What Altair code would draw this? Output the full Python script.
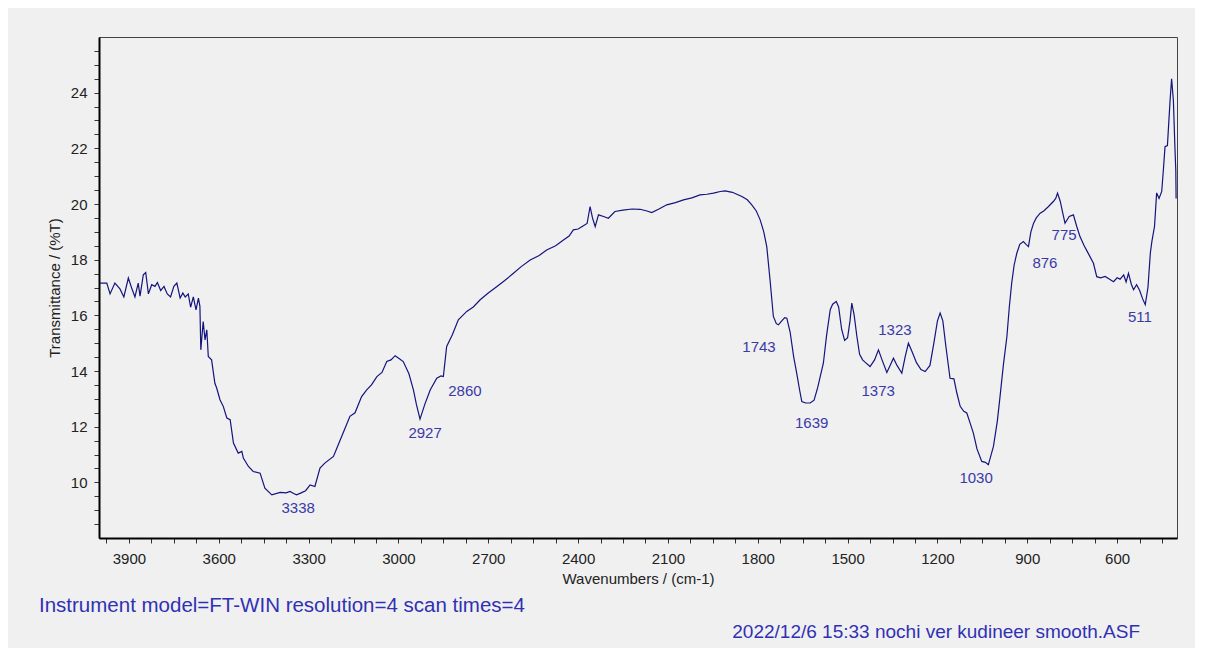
import altair as alt
import pandas as pd

# ---- spectrum ----
wavenumber = [
    3997, 3974, 3963, 3947, 3930, 3917, 3902, 3891, 3880, 3869, 3863, 3852, 3844, 3835,
    3824, 3813, 3805, 3794, 3783, 3772, 3761, 3750, 3740, 3729, 3720, 3712, 3702, 3694,
    3685, 3676, 3668, 3663, 3660, 3652, 3646, 3640, 3635, 3624, 3613, 3607, 3596, 3585,
    3573, 3562, 3551, 3535, 3523, 3518, 3501, 3485, 3462, 3446, 3423, 3395, 3375, 3362,
    3350, 3340, 3325, 3310, 3295, 3279, 3262, 3245, 3217, 3201, 3180, 3162, 3145, 3123,
    3106, 3090, 3072, 3055, 3039, 3025, 3011, 2998, 2984, 2965, 2950, 2940, 2928, 2912,
    2894, 2872, 2858, 2850, 2839, 2820, 2800, 2772, 2750, 2727, 2700, 2672, 2645, 2616,
    2590, 2560, 2530, 2505, 2475, 2449, 2430, 2416, 2400, 2385, 2370, 2360, 2352, 2343,
    2332, 2315, 2299, 2277, 2250, 2220, 2193, 2170, 2154, 2130, 2104, 2075, 2048, 2020,
    1993, 1970, 1948, 1925, 1909, 1885, 1870, 1853, 1835, 1820, 1805, 1792, 1780, 1770,
    1759, 1748, 1738, 1731, 1720, 1710, 1703, 1692, 1680, 1670, 1660, 1653, 1640, 1625,
    1612, 1600, 1581, 1570, 1558, 1550, 1538, 1530, 1520, 1510, 1500, 1492, 1486, 1478,
    1469, 1460, 1450, 1440, 1425, 1410, 1397, 1385, 1369, 1358, 1347, 1335, 1319, 1308,
    1297, 1285, 1270, 1255, 1241, 1225, 1212, 1200, 1191, 1182, 1172, 1158, 1145, 1135,
    1124, 1112, 1102, 1090, 1080, 1068, 1052, 1040, 1030, 1013, 1000, 991, 980, 968,
    960, 952, 944, 935, 925, 913, 904, 896, 888, 879, 870, 857, 845, 830, 813, 805, 799,
    790, 780, 774, 760, 746, 735, 724, 710, 695, 679, 668, 655, 640, 625, 612, 600, 590,
    578, 570, 562, 552, 545, 535, 525, 515, 506, 497, 489, 484, 475, 468, 460, 451, 445,
    440, 432, 423, 418, 412, 407, 404, 403,
]
transmittance = [
    17.16, 17.16, 16.77, 17.16, 16.95, 16.66, 17.34, 16.98, 16.66, 17.16, 16.69, 17.46, 17.54, 16.77,
    17.10, 17.04, 17.18, 16.89, 17.04, 16.77, 16.66, 17.04, 17.16, 16.62, 16.80, 16.66, 16.77, 16.29,
    16.66, 16.20, 16.62, 16.32, 14.76, 15.78, 15.12, 15.48, 14.52, 14.40, 13.56, 13.39, 12.97, 12.73,
    12.31, 12.25, 11.41, 11.05, 11.11, 10.87, 10.57, 10.39, 10.33, 9.79, 9.55, 9.64, 9.62, 9.67,
    9.60, 9.55, 9.62, 9.70, 9.91, 9.85, 10.51, 10.70, 10.93, 11.35, 11.90, 12.37, 12.50, 13.08,
    13.32, 13.50, 13.80, 13.95, 14.34, 14.40, 14.55, 14.45, 14.34, 13.90, 13.32, 12.80, 12.27, 12.80,
    13.32, 13.74, 13.82, 13.80, 14.88, 15.30, 15.84, 16.14, 16.30, 16.56, 16.80, 17.03, 17.25, 17.51,
    17.75, 17.99, 18.15, 18.35, 18.50, 18.71, 18.85, 19.07, 19.10, 19.20, 19.30, 19.91, 19.50, 19.19,
    19.61, 19.55, 19.49, 19.73, 19.78, 19.82, 19.81, 19.75, 19.69, 19.82, 19.97, 20.05, 20.15, 20.22,
    20.33, 20.35, 20.39, 20.45, 20.47, 20.42, 20.35, 20.27, 20.15, 19.97, 19.75, 19.43, 19.00, 18.47,
    17.27, 15.96, 15.70, 15.66, 15.80, 15.92, 15.90, 15.40, 14.50, 13.92, 13.30, 12.90, 12.85, 12.85,
    12.95, 13.40, 14.28, 15.30, 16.20, 16.40, 16.50, 16.30, 15.50, 15.10, 15.20, 15.80, 16.44, 16.00,
    15.24, 14.60, 14.40, 14.30, 14.16, 14.40, 14.76, 14.40, 13.95, 14.20, 14.46, 14.20, 13.92, 14.50,
    15.00, 14.70, 14.30, 14.05, 13.98, 14.20, 15.00, 15.80, 16.08, 15.80, 14.90, 13.74, 13.72, 13.20,
    12.73, 12.55, 12.49, 12.10, 11.77, 11.20, 10.75, 10.72, 10.63, 11.29, 12.20, 13.08, 14.20, 15.24,
    16.30, 17.16, 17.80, 18.23, 18.55, 18.65, 18.55, 18.47, 19.00, 19.31, 19.50, 19.67, 19.75, 19.90, 20.09, 20.20, 20.39,
    20.10, 19.60, 19.31, 19.55, 19.61, 19.20, 18.83, 18.50, 18.20, 17.87, 17.39, 17.35, 17.40, 17.30, 17.21, 17.35, 17.30,
    17.45, 17.20, 17.51, 17.10, 16.92, 17.10, 16.90, 16.60, 16.38, 17.00, 18.24, 18.65, 19.20, 20.40, 20.20, 20.45, 21.30,
    22.06, 22.10, 23.74, 24.50, 23.70, 22.06, 21.20, 20.20,
]

# ---- peak labels ----
peak_text = ["3338", "2927", "2860", "1743", "1639", "1373", "1323", "1030", "876", "775", "511"]
peak_wn = [3335, 2911, 2778, 1796, 1620, 1398, 1342, 1071, 841, 777, 524]
peak_t = [9.09, 11.78, 13.29, 14.88, 12.14, 13.29, 15.48, 10.17, 17.89, 18.89, 15.95]

# ---- axes ----
x_tick_values = list(range(450, 4000, 75))
y_tick_values = [v / 2 for v in range(17, 52)]

footer_left = "Instrument model=FT-WIN resolution=4 scan times=4"
footer_right = "2022/12/6 15:33 nochi ver kudineer smooth.ASF"

W, H = 1078, 501
FONT = "Liberation Sans"

spec = pd.DataFrame({"wn": wavenumber, "T": transmittance})
peaks = pd.DataFrame({"wn": peak_wn, "T": peak_t, "label": peak_text})

xscale = alt.Scale(domain=[400, 4000], reverse=True, nice=False, zero=False)
yscale = alt.Scale(domain=[8, 26], nice=False, zero=False)

xaxis = alt.Axis(
    values=x_tick_values,
    tickCount=500,
    tickMinStep=0.1,
    labelExpr="datum.value % 300 === 0 ? format(datum.value, 'd') : ''",
    title="Wavenumbers / (cm-1)",
    labelOverlap=False,
    labelFlush=False,
    tickSize=5,
    labelPadding=8,
    titlePadding=5,
)
yaxis = alt.Axis(
    values=y_tick_values,
    tickCount=500,
    tickMinStep=0.1,
    labelExpr="datum.value % 2 === 0 ? format(datum.value, 'd') : ''",
    title="Transmittance / (%T)",
    labelOverlap=False,
    labelFlush=False,
    tickSize=5,
    labelPadding=7,
    titlePadding=8,
)

line = alt.Chart(spec).mark_line(color="#14147e", strokeWidth=1.2).encode(
    x=alt.X("wn:Q", scale=xscale, axis=xaxis),
    y=alt.Y("T:Q", scale=yscale, axis=yaxis),
)

labels = alt.Chart(peaks).mark_text(
    color="#3a3aa6", fontSize=15, font=FONT, baseline="middle", align="center"
).encode(
    x=alt.X("wn:Q", scale=xscale),
    y=alt.Y("T:Q", scale=yscale),
    text="label:N",
)

foot_l = alt.Chart(pd.DataFrame({"t": [footer_left]})).mark_text(
    color="#3030b4", fontSize=20.5, font=FONT, align="left", baseline="middle"
).encode(x=alt.value(-60), y=alt.value(569), text="t:N")

foot_r = alt.Chart(pd.DataFrame({"t": [footer_right]})).mark_text(
    color="#3030b4", fontSize=19, font=FONT, align="right", baseline="middle"
).encode(x=alt.value(1041), y=alt.value(595), text="t:N")

chart = (
    alt.layer(line, labels, foot_l, foot_r)
    .properties(
        width=W,
        height=H,
        autosize=alt.AutoSizeParams(type="none"),
        padding={"left": 91, "top": 29, "right": 18, "bottom": 110},
        background="#f0f0f0",
    )
    .configure_view(stroke="#444444", strokeWidth=1, fill="#f0f0f0")
    .configure_axis(
        grid=False,
        domainColor="#000000",
        domainWidth=2,
        tickColor="#333333",
        tickWidth=1,
        labelFont=FONT,
        labelFontSize=15,
        labelColor="#222222",
        titleFont=FONT,
        titleFontSize=15,
        titleFontWeight="normal",
        titleColor="#222222",
    )
)

chart.save("out.html", embed_options={"renderer": "svg", "actions": False})
